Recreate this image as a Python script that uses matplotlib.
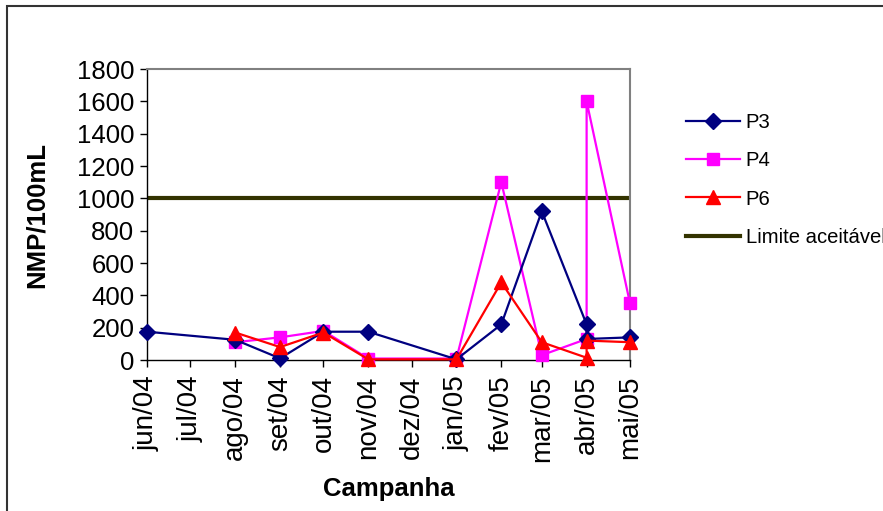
import numpy as np
import matplotlib
matplotlib.use("Agg")
import matplotlib.pyplot as plt
import matplotlib.dates as mdates
from matplotlib.patches import Rectangle

plt.rcParams['font.family'] = ['Liberation Sans', 'DejaVu Sans']

# campanhas (amostras no início de cada mês; abril teve duas coletas)
datas_p3 = ['2004-06-01', '2004-08-01', '2004-09-01', '2004-10-01', '2004-11-01',
            '2005-01-01', '2005-02-01', '2005-03-01', '2005-04-01', '2005-04-01',
            '2005-05-01']
p3 = [175, 125, 10, 175, 175, 4, 220, 920, 220, 130, 140]

datas_p4 = ['2004-08-01', '2004-09-01', '2004-10-01', '2004-11-01', '2005-01-01',
            '2005-02-01', '2005-03-01', '2005-04-01', '2005-04-01', '2005-05-01']
p4 = [110, 140, 180, 9, 9, 1100, 30, 130, 1600, 350]

datas_p6 = datas_p4
p6 = [170, 80, 170, 4, 4, 480, 110, 14, 120, 110]

limite = 1000
meses = ['jan', 'fev', 'mar', 'abr', 'mai', 'jun', 'jul', 'ago', 'set', 'out', 'nov', 'dez']


def to_dates(lst):
    return np.array(lst, dtype='datetime64[D]')


fig = plt.figure(figsize=(8.83, 5.11), dpi=100)
fig.patches.append(Rectangle((7 / 883, -0.1), 1.2, 1 - 6 / 511 + 0.1,
                             transform=fig.transFigure, fill=False,
                             edgecolor='#333333', linewidth=1.5))

ax = fig.add_axes([147 / 883, 1 - 360 / 511, 483 / 883, 291 / 511])

ax.plot(to_dates(datas_p3), p3, color='#000080', lw=1.6, marker='D', ms=8.5,
        label='P3', clip_on=False, zorder=4)
ax.plot(to_dates(datas_p4), p4, color='#FF00FF', lw=1.6, marker='s', ms=8.5,
        label='P4', clip_on=False, zorder=3)
ax.plot(to_dates(datas_p6), p6, color='#FF0000', lw=1.6, marker='^', ms=9.5,
        label='P6', clip_on=False, zorder=5)
ax.axhline(limite, color='#333300', lw=3, label='Limite aceitável', zorder=2)

ax.set_xlim(np.datetime64('2004-06-01'), np.datetime64('2005-05-01'))
ax.set_ylim(0, 1800)
ax.set_yticks(np.arange(0, 1801, 200))

ax.xaxis.set_major_locator(mdates.MonthLocator())
ax.xaxis.set_major_formatter(plt.FuncFormatter(
    lambda v, p: '%s/%s' % (meses[mdates.num2date(v).month - 1],
                            mdates.num2date(v).strftime('%y'))))

ax.tick_params(direction='out', length=5, width=1, colors='black',
               labelsize=18.5, pad=4)
ax.tick_params(axis='x', labelrotation=90, labelsize=20, pad=6)

for s in ['top', 'right']:
    ax.spines[s].set_color('#808080')
    ax.spines[s].set_linewidth(1.5)
for s in ['left', 'bottom']:
    ax.spines[s].set_color('black')
    ax.spines[s].set_linewidth(1)

ax.set_ylabel('NMP/100mL', fontsize=18.5, fontweight='bold', labelpad=20)
ax.set_xlabel('Campanha', fontsize=18.5, fontweight='bold', labelpad=11)

fig.legend(loc='upper left', bbox_to_anchor=(686 / 883, 1 - 113 / 511),
           frameon=False, fontsize=14.6, handlelength=2.65, labelspacing=0.95,
           handletextpad=0.3, borderpad=0, borderaxespad=0)

fig.savefig('out.png', dpi=100)
